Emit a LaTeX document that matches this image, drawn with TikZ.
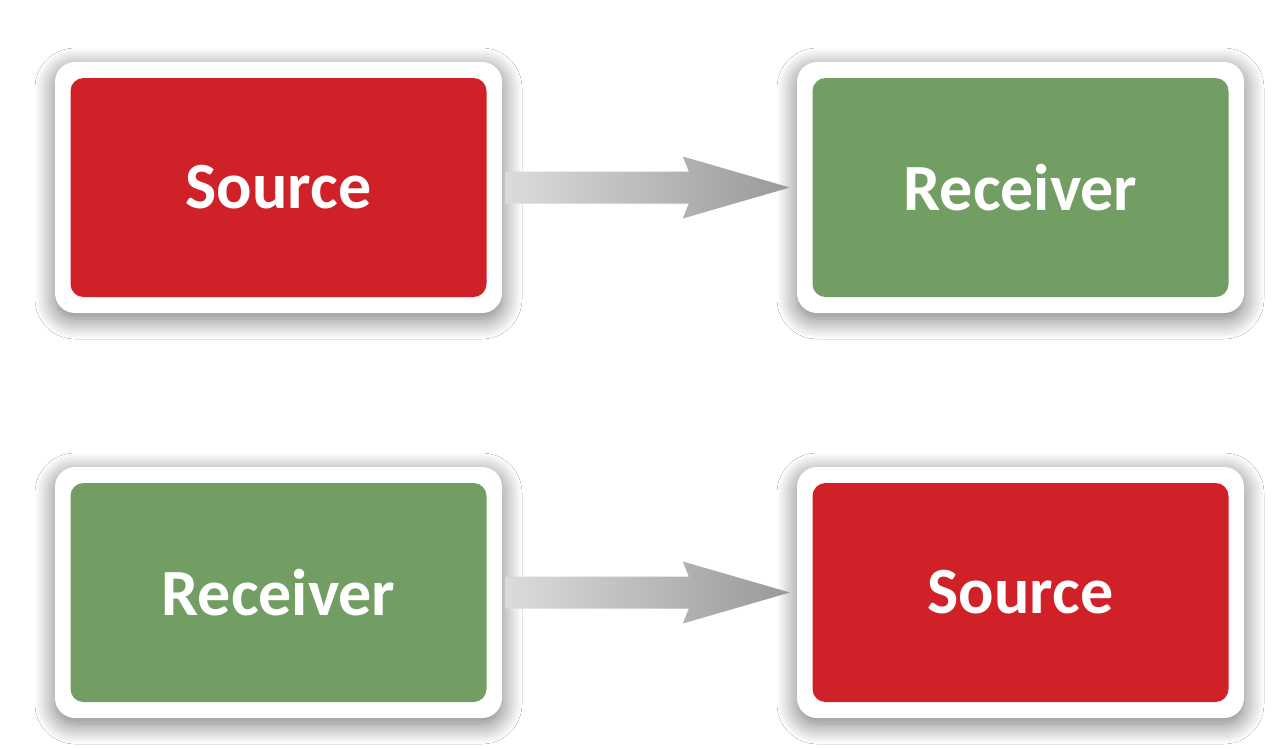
\documentclass[tikz,border=0pt]{standalone}
\usepackage{fontspec}
\setmainfont{Carlito}
\usetikzlibrary{calc,shadows.blur}
\definecolor{boxred}{HTML}{D12128}
\definecolor{boxgreen}{HTML}{739E63}
\tikzset{
  frame/.style={fill=white, rounded corners=20pt, minimum width=447pt, minimum height=251pt, inner sep=0pt,
    blur shadow={shadow xshift=0pt, shadow yshift=-6pt, shadow blur radius=20pt, shadow opacity=55, shadow blur steps=18}},
  card/.style={rounded corners=13pt, minimum width=416pt, minimum height=219pt, inner sep=0pt,
    text=white, font=\fontsize{66}{72}\selectfont\bfseries},
  redcard/.style={card, fill=boxred},
  greencard/.style={card, fill=boxgreen},
  flowarrow/.style={left color=gray!28, right color=gray!80, draw=none}
}
\begin{document}
\begin{tikzpicture}[x=1pt,y=-1pt]
\useasboundingbox[fill=white] (0,0) rectangle (1278,748);
% frames
\node[frame] (f1) at (278.5,187.5) {};
\node[frame] (f2) at (1020.5,187.5) {};
\node[frame] (f3) at (278.5,592.5) {};
\node[frame] (f4) at (1020.5,592.5) {};
% cards
\node[redcard]   (s1) at (f1.center) {Source};
\node[greencard] (r1) at (f2.center) {Receiver};
\node[greencard] (r2) at (f3.center) {Receiver};
\node[redcard]   (s2) at (f4.center) {Source};
% arrows
\foreach \a/\b in {f1/f2, f3/f4}{
  \path[flowarrow] ($(\a.east)+(3,-16)$) -- ($(\b.west)+(-108,-16)$) -- ($(\b.west)+(-114,-31)$)
    -- ($(\b.west)+(-7,0)$) -- ($(\b.west)+(-114,31)$) -- ($(\b.west)+(-108,16)$)
    -- ($(\a.east)+(3,16)$) -- cycle;
}
\end{tikzpicture}
\end{document}
